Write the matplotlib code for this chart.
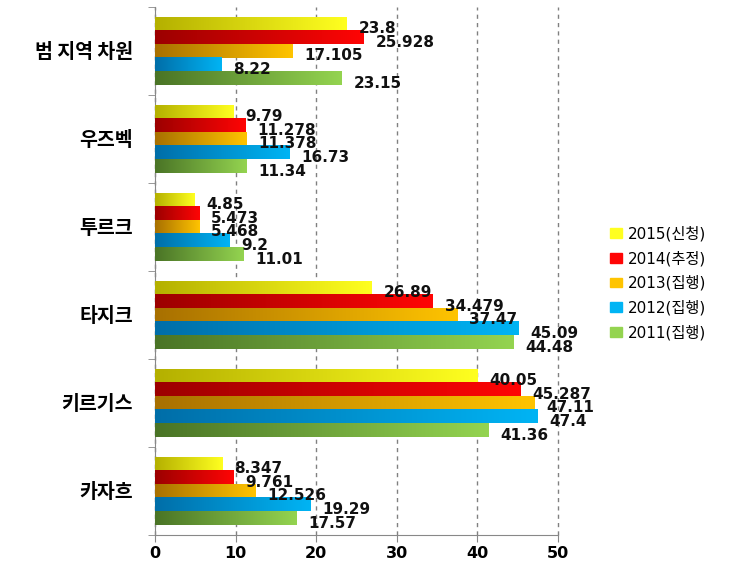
import numpy as np
import matplotlib
matplotlib.use("Agg")
import matplotlib.pyplot as plt
from matplotlib.colors import LinearSegmentedColormap
from matplotlib.patches import Patch

plt.rcParams["font.family"] = ["DejaVu Sans", "Noto Sans CJK KR"]

categories = ["범 지역 차원", "우즈벡", "투르크", "타지크", "키르기스", "카자흐"]
series = ["2015(신청)", "2014(추정)", "2013(집행)", "2012(집행)", "2011(집행)"]
v2015 = [23.8, 9.79, 4.85, 26.89, 40.05, 8.347]
v2014 = [25.928, 11.278, 5.473, 34.479, 45.287, 9.761]
v2013 = [17.105, 11.378, 5.468, 37.47, 47.11, 12.526]
v2012 = [8.22, 16.73, 9.2, 45.09, 47.4, 19.29]
v2011 = [23.15, 11.34, 11.01, 44.48, 41.36, 17.57]
labels = [
    ["23.8", "9.79", "4.85", "26.89", "40.05", "8.347"],
    ["25.928", "11.278", "5.473", "34.479", "45.287", "9.761"],
    ["17.105", "11.378", "5.468", "37.47", "47.11", "12.526"],
    ["8.22", "16.73", "9.2", "45.09", "47.4", "19.29"],
    ["23.15", "11.34", "11.01", "44.48", "41.36", "17.57"],
]
values = [v2015, v2014, v2013, v2012, v2011]

# dark (left) -> light (right) gradient per series
grads = [
    ("#b4b000", "#ffff20"),
    ("#9c0000", "#ff0505"),
    ("#a87000", "#ffc400"),
    ("#006ea8", "#00b4f4"),
    ("#4a7426", "#94d450"),
]

fig = plt.figure(figsize=(7.35, 5.62), dpi=100)
ax = fig.add_axes([155 / 735, 1 - 535 / 562, (558 - 155) / 735, (535 - 7) / 562])

y = np.arange(len(categories))
h = 0.155
for i, vals in enumerate(values):
    pos = y - 2 * h + i * h
    bars = ax.barh(pos, vals, height=h, color=grads[i][1], zorder=2)
    cmap = LinearSegmentedColormap.from_list("g%d" % i, grads[i])
    grad = np.linspace(0, 1, 256).reshape(1, -1)
    for b, lab in zip(bars, labels[i]):
        x0, y0 = b.get_x(), b.get_y()
        w, hh = b.get_width(), b.get_height()
        ax.imshow(grad, cmap=cmap, aspect="auto", zorder=3,
                  extent=(x0, x0 + w, y0 + hh, y0), interpolation="bilinear")
        ax.annotate(lab, (x0 + w, y0 + hh / 2), xytext=(8.5, -3.5),
                    textcoords="offset points", va="center", ha="left",
                    fontsize=11, fontweight="bold", color="#111111", zorder=4)

ax.set_xlim(0, 50)
ax.set_ylim(len(categories) - 0.5, -0.5)
ax.set_xticks(range(0, 51, 10))
ax.set_yticks(y)
ax.set_yticklabels(categories, fontsize=14, fontweight="bold",
                   family=["Noto Sans CJK KR"])
ax.set_yticks(np.arange(-0.5, len(categories)), minor=True)
ax.tick_params(axis="y", which="major", length=0, pad=16)
ax.tick_params(axis="y", which="minor", length=5, color="#888888")
ax.tick_params(axis="x", length=5, color="#888888", labelsize=11.5, pad=3)
for t in ax.get_xticklabels():
    t.set_fontweight("bold")
ax.xaxis.grid(True, linestyle=(0, (3, 3)), color="#808080", linewidth=1, zorder=1)
for gl in ax.get_xgridlines():
    gl.set_clip_on(False)
ax.set_axisbelow(True)
for s in ["top", "right"]:
    ax.spines[s].set_visible(False)
for s in ["left", "bottom"]:
    ax.spines[s].set_color("#888888")

handles = [Patch(color=c[1]) for c in grads]
fig.legend(handles, series, loc="center left", bbox_to_anchor=(596 / 735, 1 - 283 / 562),
           frameon=False, fontsize=11, handlelength=0.8, handleheight=0.6,
           handletextpad=0.4, labelspacing=0.6)

fig.savefig("out.png", dpi=100)
